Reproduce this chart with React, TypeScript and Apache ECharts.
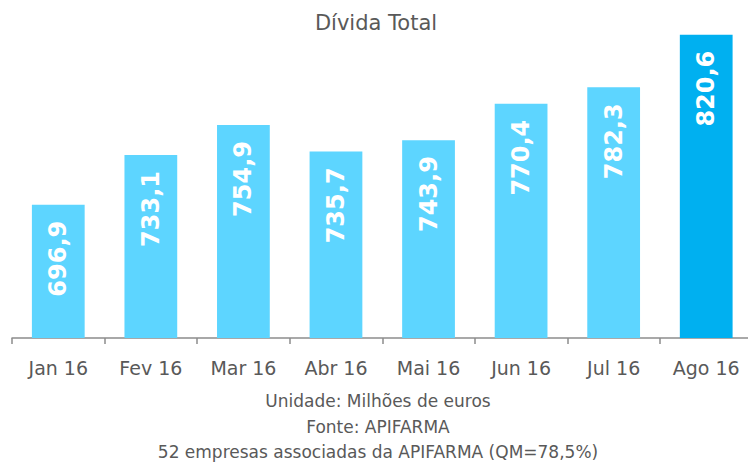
import React, { useEffect, useRef } from "react";
import * as echarts from "echarts";

const categories = ["Jan 16", "Fev 16", "Mar 16", "Abr 16", "Mai 16", "Jun 16", "Jul 16", "Ago 16"];
const values = [696.9, 733.1, 754.9, 735.7, 743.9, 770.4, 782.3, 820.6];
const highlightIndex = 7;
const titleText = "Dívida Total";
const footerLines = [
  "Unidade: Milhões de euros",
  "Fonte: APIFARMA",
  "52 empresas associadas da APIFARMA (QM=78,5%)",
];

const FONT = "DejaVu Sans, Verdana, sans-serif";
const LIGHT = "#5DD5FF";
const DARK = "#00B0F0";
const TEXT = "#595959";

export default function App() {
  const ref = useRef<HTMLDivElement>(null);
  useEffect(() => {
    if (!ref.current) return;
    const chart = echarts.init(ref.current, null, { renderer: "svg" });
    chart.setOption({
      animation: false,
      backgroundColor: "#ffffff",
      title: {
        text: titleText,
        left: 376,
        textAlign: "center",
        top: 12,
        padding: 0,
        textStyle: { fontFamily: FONT, fontSize: 21, fontWeight: "normal", color: TEXT },
      },
      grid: { left: 12, width: 740.5, top: 8, height: 330 },
      xAxis: {
        type: "category",
        data: categories,
        axisLine: { lineStyle: { color: "#8c8c8c", width: 1.5 } },
        axisTick: { show: true, length: 6, lineStyle: { color: "#8c8c8c", width: 1.5 } },
        axisLabel: { fontFamily: FONT, fontSize: 19, color: TEXT, margin: 20, interval: 0 },
      },
      yAxis: {
        type: "value",
        min: 600,
        max: 840,
        show: false,
        splitLine: { show: false },
      },
      series: [
        {
          type: "bar",
          barWidth: "57%",
          data: values.map((v, i) => ({
            value: v,
            itemStyle: { color: i === highlightIndex ? DARK : LIGHT },
          })),
          label: {
            show: true,
            position: "insideTop",
            rotate: 90,
            align: "right",
            verticalAlign: "middle",
            distance: 16,
            formatter: (p: any) => String(p.value).replace(".", ","),
            fontFamily: FONT,
            fontSize: 24,
            fontWeight: "bold",
            color: "#ffffff",
          },
        },
      ],
      graphic: footerLines.map((t, i) => ({
        type: "text",
        x: 378,
        y: 401 + i * 25.5,
        style: {
          text: t,
          fontFamily: FONT,
          fontSize: 17,
          fill: TEXT,
          align: "center",
          verticalAlign: "middle",
        },
      })),
    });
    return () => chart.dispose();
  }, []);
  return (
    <div style={{ position: "fixed", left: 0, top: 0, width: 748, height: 467, overflow: "hidden" }}>
      <div
        ref={ref}
        style={{ position: "absolute", left: 0, top: 0, width: 770, height: 467 }}
      />
    </div>
  );
}
